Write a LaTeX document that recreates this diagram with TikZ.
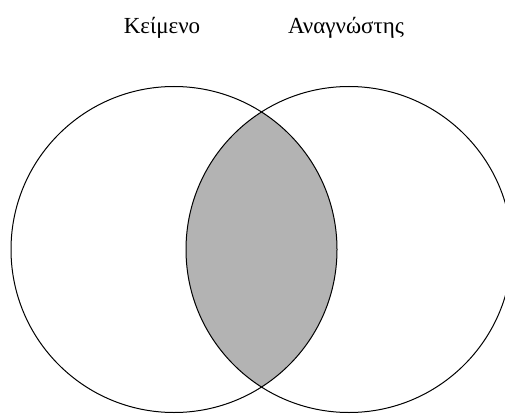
\documentclass[tikz,border=0pt]{standalone}
\usepackage{fontspec}
\setmainfont{Liberation Serif}
\definecolor{lensgray}{RGB}{179,179,179}
\begin{document}
\begin{tikzpicture}[x=1pt,y=-1pt,
  setline/.style={draw=black,line width=1pt},
  setlabel/.style={font=\fontsize{23}{26}\selectfont,anchor=base}]
\useasboundingbox (0,0) rectangle (505,417);
\coordinate (cL) at (174,249.5);
\coordinate (cR) at (349,249.5);
\begin{scope}
  \clip (cL) circle[radius=163];
  \fill[lensgray] (cR) circle[radius=163];
\end{scope}
\begin{scope}
  \clip (0,0) rectangle (505,417);
  \draw[setline] (cL) circle[radius=163];
  \draw[setline] (cR) circle[radius=163];
\end{scope}
\node[setlabel] (text) at (162,33.5) {Κείμενο};
\node[setlabel] (reader) at (346,33.5) {Αναγνώστης};
\end{tikzpicture}
\end{document}
